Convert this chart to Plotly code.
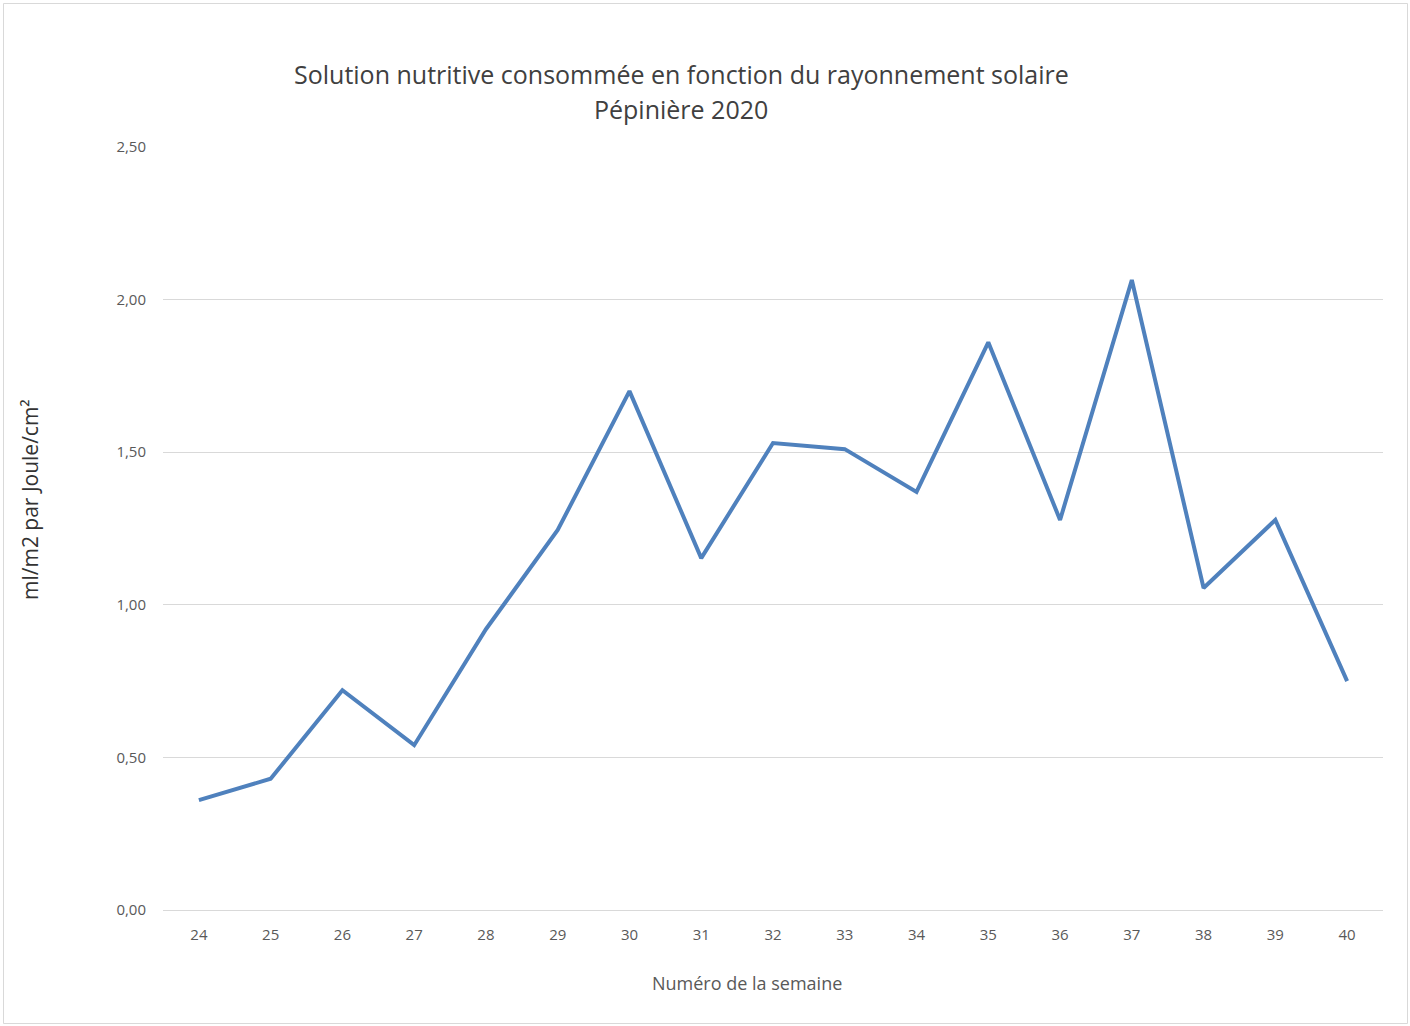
import plotly.graph_objects as go

weeks = ["24", "25", "26", "27", "28", "29", "30", "31", "32", "33", "34", "35", "36", "37", "38", "39", "40"]
values = [0.36, 0.43, 0.72, 0.54, 0.92, 1.245, 1.70, 1.153, 1.53, 1.51, 1.37, 1.86, 1.278, 2.064, 1.055, 1.278, 0.75]
y_ticks = [0, 0.5, 1.0, 1.5, 2.0, 2.5]
y_tick_labels = ["0,00", "0,50", "1,00", "1,50", "2,00", "2,50"]
title_line1 = "Solution nutritive consommée en fonction du rayonnement solaire"
title_line2 = "Pépinière 2020"

W, H = 1410, 1026
L, R, T, B = 163, 27, 147, 116
pw, ph = W - L - R, H - T - B

def px(x):
    return (x - L) / pw

def py(y):
    return (H - B - y) / ph

fig = go.Figure()
fig.add_trace(go.Scatter(
    x=weeks, y=values, mode="lines",
    line=dict(color="#4F81BD", width=4),
    hoverinfo="x+y",
))

font_family = "Open Sans, Noto Sans, sans-serif"
fig.update_layout(
    width=W, height=H,
    margin=dict(l=L, r=R, t=T, b=B),
    paper_bgcolor="white", plot_bgcolor="white",
    showlegend=False,
    font=dict(family=font_family, color="#595959"),
    xaxis=dict(
        type="category", range=[-0.5, 16.5],
        showgrid=False, showline=False, ticks="",
        tickfont=dict(size=15, color="#595959"),
        ticklabelstandoff=14,
    ),
    yaxis=dict(
        range=[0, 2.5], tickvals=y_ticks, ticktext=y_tick_labels,
        showgrid=True, gridcolor="#D9D9D9", gridwidth=1,
        zeroline=True, zerolinecolor="#D9D9D9", zerolinewidth=1,
        showline=False, ticks="",
        tickfont=dict(size=15, color="#595959"),
        ticklabelstandoff=16,
    ),
    annotations=[
        dict(text=title_line1,
             xref="paper", yref="paper", x=px(681), y=py(74), xanchor="center", yanchor="middle",
             showarrow=False, font=dict(size=25, color="#404040", family=font_family)),
        dict(text=title_line2,
             xref="paper", yref="paper", x=px(681), y=py(109), xanchor="center", yanchor="middle",
             showarrow=False, font=dict(size=25, color="#404040", family=font_family)),
        dict(text="ml/m2 par Joule/cm²",
             xref="paper", yref="paper", x=px(30), y=py(500), xanchor="center", yanchor="middle",
             textangle=-90, showarrow=False,
             font=dict(size=21, color="#333333", family=font_family)),
        dict(text="Numéro de la semaine",
             xref="paper", yref="paper", x=px(747), y=py(983), xanchor="center", yanchor="middle",
             showarrow=False, font=dict(size=18, color="#595959", family=font_family)),
    ],
    shapes=[
        dict(type="rect", xref="paper", yref="paper",
             x0=px(3.5), x1=px(1407.5), y0=py(3.5), y1=py(1023.5),
             line=dict(color="#D9D9D9", width=1), fillcolor="rgba(0,0,0,0)", layer="below"),
    ],
)

fig.write_html("out.html")
